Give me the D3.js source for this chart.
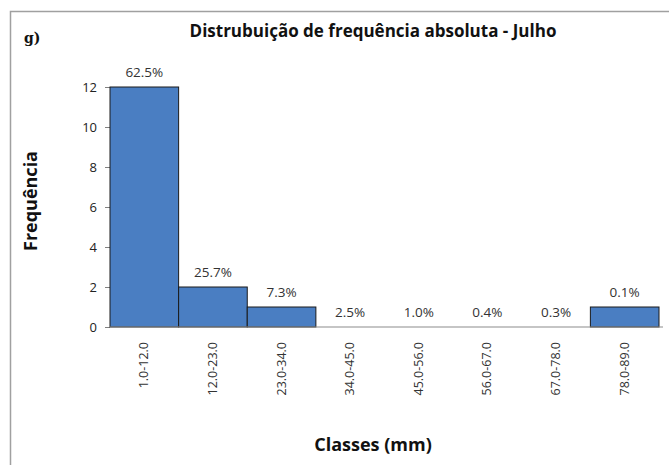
<!DOCTYPE html>
<html>
<head>
<meta charset="utf-8">
<script src="https://cdn.jsdelivr.net/npm/d3@7"></script>
<style>
  body { margin: 0; background: #fff; }
  text { font-family: "Open Sans", "Noto Sans", sans-serif; }
  .bold-title { font-family: "Open Sans", sans-serif; font-weight: bold; }
</style>
</head>
<body>
<svg id="chart" width="669" height="465"></svg>
<script>
// classes (mm), absolute frequency, relative frequency labels
const classes = ["1.0-12.0", "12.0-23.0", "23.0-34.0", "34.0-45.0", "45.0-56.0", "56.0-67.0", "67.0-78.0", "78.0-89.0"];
const frequencies = [12, 2, 1, 0, 0, 0, 0, 1];
const percentLabels = ["62.5%", "25.7%", "7.3%", "2.5%", "1.0%", "0.4%", "0.3%", "0.1%"];
const yTicks = [0, 2, 4, 6, 8, 10, 12];

const svg = d3.select("#chart");
const margin = {left: 110, top: 87, right: 10, bottom: 138};

// outer frame (only top and left edges visible in the crop)
svg.append("path")
    .attr("d", "M10.5,465 L10.5,11.5 L669,11.5")
    .attr("fill", "none")
    .attr("stroke", "#a0a0a0")
    .attr("stroke-width", 1.5);

const g = svg.append("g")
    .attr("transform", "translate(" + margin.left + "," + margin.top + ")");

const x = d3.scaleBand()
    .domain(classes)
    .range([0, 549])
    .padding(0);

const y = d3.scaleLinear()
    .domain([0, 12])
    .range([240, 0]);

// y axis: ticks only, no domain line
const yAxis = g.append("g")
    .call(d3.axisLeft(y).tickValues(yTicks).tickSize(5).tickPadding(8));
yAxis.select(".domain").remove();
yAxis.selectAll(".tick line").attr("stroke", "#808080");
yAxis.selectAll(".tick text")
    .attr("fill", "#222")
    .style("font-size", "13px");

// bars
g.selectAll("rect.bar")
    .data(frequencies)
    .join("rect")
    .attr("class", "bar")
    .attr("x", (d, i) => x(classes[i]))
    .attr("y", d => y(d))
    .attr("width", x.bandwidth())
    .attr("height", d => y(0) - y(d))
    .attr("fill", "#4a7ec2")
    .attr("stroke", "#1a1a1a")
    .attr("stroke-width", 1);

// x axis line
g.append("line")
    .attr("x1", 0)
    .attr("x2", 553)
    .attr("y1", y(0))
    .attr("y2", y(0))
    .attr("stroke", "#8c8c8c")
    .attr("stroke-width", 1.2);

// percentage labels above bars
g.selectAll("text.pct")
    .data(percentLabels)
    .join("text")
    .attr("class", "pct")
    .attr("x", (d, i) => x(classes[i]) + x.bandwidth() / 2)
    .attr("y", (d, i) => y(frequencies[i]) - 10)
    .attr("text-anchor", "middle")
    .attr("fill", "#333")
    .style("font-size", "13.5px")
    .text(d => d);

// rotated class labels
g.selectAll("text.cls")
    .data(classes)
    .join("text")
    .attr("class", "cls")
    .attr("transform", d => "translate(" + (x(d) + x.bandwidth() / 2 + 4) + "," + (y(0) + 15) + ") rotate(-90)")
    .attr("text-anchor", "end")
    .attr("fill", "#333")
    .style("font-size", "12.5px")
    .text(d => d);

// title
svg.append("text")
    .attr("class", "bold-title")
    .attr("x", 373)
    .attr("y", 37)
    .attr("text-anchor", "middle")
    .attr("fill", "#111")
    .style("font-size", "17px")
    .text("Distrubuição de frequência absoluta - Julho");

// panel letter
svg.append("text")
    .attr("x", 24)
    .attr("y", 43)
    .attr("font-weight", "bold")
    .attr("fill", "#111")
    .style("font-family", "'DejaVu Serif', 'Liberation Serif', serif")
    .style("font-size", "14px")
    .text("g)");

// axis titles
svg.append("text")
    .attr("class", "bold-title")
    .attr("transform", "translate(37,201) rotate(-90)")
    .attr("text-anchor", "middle")
    .attr("fill", "#111")
    .style("font-size", "18px")
    .text("Frequência");

svg.append("text")
    .attr("class", "bold-title")
    .attr("x", 373)
    .attr("y", 451)
    .attr("text-anchor", "middle")
    .attr("fill", "#111")
    .style("font-size", "18px")
    .text("Classes (mm)");
</script>
</body>
</html>
